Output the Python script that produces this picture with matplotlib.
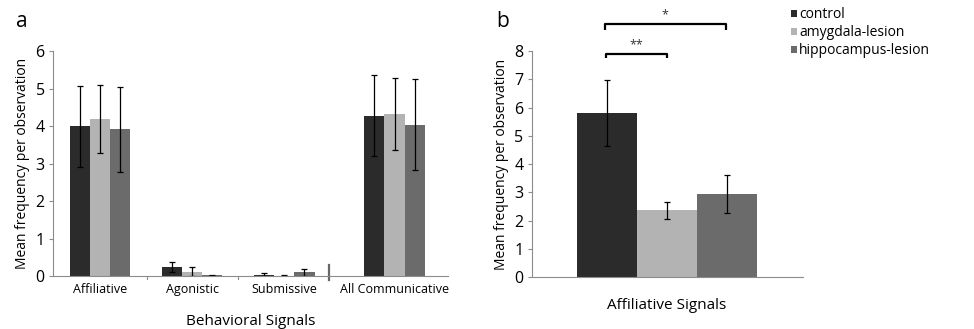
import matplotlib
matplotlib.use("Agg")
import matplotlib.pyplot as plt
import numpy as np

plt.rcParams['font.family'] = ['Open Sans', 'DejaVu Sans']

groups = ["control", "amygdala-lesion", "hippocampus-lesion"]
colors = ["#2b2b2b", "#b3b3b3", "#6b6b6b"]

cats_a = ["Affiliative", "Agonistic", "Submissive", "All Communicative"]
vals_a = {
    "control":            [3.99, 0.24, 0.04, 4.28],
    "amygdala-lesion":    [4.19, 0.12, 0.01, 4.32],
    "hippocampus-lesion": [3.91, 0.02, 0.10, 4.04],
}
errs_a = {
    "control":            [1.07, 0.14, 0.03, 1.09],
    "amygdala-lesion":    [0.90, 0.13, 0.01, 0.96],
    "hippocampus-lesion": [1.13, 0.01, 0.09, 1.21],
}

cat_b = "Affiliative Signals"
vals_b = [5.81, 2.37, 2.94]
errs_b = [1.18, 0.30, 0.66]

fig = plt.figure(figsize=(9.74, 3.29), dpi=100)
axcol = "#8c8c8c"

# ---------- panel a ----------
ax = fig.add_axes([0.0544, 0.161, 0.4056, 0.684])
xpos = np.array([0, 1, 2, 3.2])
w = 0.22
for i, g in enumerate(groups):
    ax.bar(xpos + (i - 1) * w, vals_a[g], width=w, color=colors[i],
           yerr=errs_a[g], error_kw=dict(ecolor="black", elinewidth=0.9,
                                         capsize=2, capthick=0.9))
ax.set_xlim(-0.51, 3.78)
ax.set_ylim(0, 6)
ax.set_yticks(range(0, 7))
ax.set_xticks(xpos)
ax.set_xticklabels(cats_a, fontsize=9)
ax.tick_params(axis='x', length=0, pad=5)
ax.tick_params(axis='y', length=3, color=axcol, labelsize=11.5, pad=3, width=0.8)
for b in [0.51, 1.5]:
    ax.plot([b, b], [0, -0.08], color=axcol, lw=0.8, clip_on=False)
ax.plot([2.49, 2.49], [-0.1, 0.3], color="#666666", lw=1.6, clip_on=False)
for s in ["top", "right"]:
    ax.spines[s].set_visible(False)
for s in ["left", "bottom"]:
    ax.spines[s].set_color(axcol)
    ax.spines[s].set_linewidth(0.8)
ax.set_ylabel("Mean frequency per observation", fontsize=10, labelpad=4)
fig.text((53 + 448) / 2 / 974, 0.024, "Behavioral Signals", fontsize=11,
         ha="center", va="center")
fig.text(0.016, 0.935, "a", fontsize=15, ha="left", va="center")

# ---------- panel b ----------
bx = fig.add_axes([0.546, 0.157, 0.2784, 0.688])
xb = np.array([-1, 0, 1])
for i, g in enumerate(groups):
    bx.bar(xb[i], vals_b[i], width=1.0, color=colors[i], label=g,
           yerr=errs_b[i], error_kw=dict(ecolor="black", elinewidth=0.9,
                                         capsize=2, capthick=0.9))
bx.set_xlim(-2.25, 2.27)
bx.set_ylim(0, 8)
bx.set_yticks(range(0, 9))
bx.set_xticks([0])
bx.set_xticklabels([cat_b], fontsize=11)
bx.tick_params(axis='x', length=0, pad=15)
bx.tick_params(axis='y', length=3, color=axcol, labelsize=11.5, pad=3, width=0.8)
for s in ["top", "right"]:
    bx.spines[s].set_visible(False)
for s in ["left", "bottom"]:
    bx.spines[s].set_color(axcol)
    bx.spines[s].set_linewidth(0.8)
bx.set_ylabel("Mean frequency per observation", fontsize=10, labelpad=4)
fig.text(0.509, 0.935, "b", fontsize=15, ha="left", va="center")

# significance brackets
def bracket(x1, x2, y, h, txt):
    bx.plot([x1, x1, x2, x2], [y - h, y, y, y - h], color="black", lw=1.6,
            clip_on=False, solid_capstyle="butt")
    bx.text((x1 + x2) / 2, y + 0.1, txt, ha="center", va="bottom",
            fontsize=9, color="#333333")

bracket(-1.01, 0.0, 7.89, 0.15, "**")
bracket(-1.03, 0.98, 8.95, 0.2, "*")

handles, labels = bx.get_legend_handles_labels()
leg = fig.legend(handles, labels, loc="upper left", bbox_to_anchor=(0.806, 0.995),
                 frameon=False, fontsize=10, handlelength=0.45, handleheight=0.45,
                 handletextpad=0.15, labelspacing=0.22, borderaxespad=0)

fig.savefig("out.png", dpi=100)
